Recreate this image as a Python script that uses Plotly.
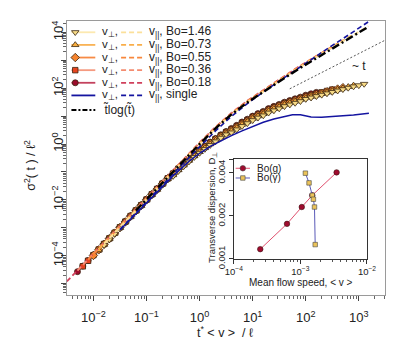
import plotly.graph_objects as go

# ---- data (logs are log10) ----
# x grid for the v_perp curves (log10 of t*<v>/l)
logt_grid = [-2.3, -2.2, -2.1, -2.0, -1.9, -1.8, -1.7, -1.6, -1.5, -1.4,
             -1.3, -1.2, -1.1, -1.0, -0.9, -0.8, -0.7, -0.6, -0.5, -0.4,
             -0.3, -0.2, -0.1, 0.0, 0.1, 0.2, 0.3, 0.4, 0.5, 0.6,
             0.7, 0.8, 0.9, 1.0, 1.1, 1.2, 1.3, 1.4, 1.5, 1.6,
             1.7, 1.8, 1.9, 2.0, 2.1, 2.2, 2.3, 2.4, 2.5, 2.6,
             2.7, 2.8, 2.9, 3.0, 3.1]

bo_labels = ["1.46", "0.73", "0.55", "0.36", "0.18"]
perp_start = {"1.46": 5, "0.73": 4, "0.55": 3, "0.36": 1, "0.18": 0}

# log10 sigma^2/l^2, transverse (v_perp)
perp_log = {
  "0.18": [-4.57, -4.37, -4.17, -3.97, -3.77, -3.57, -3.37, -3.17, -2.97, -2.77,
           -2.57, -2.37, -2.18, -1.98, -1.79, -1.60, -1.41, -1.22, -1.04, -0.86,
           -0.69, -0.52, -0.36, -0.21, -0.07, 0.07, 0.20, 0.33, 0.45, 0.56,
           0.67, 0.79, 0.89, 1.00, 1.09, 1.17, 1.27, 1.35, 1.42, 1.50,
           1.56, 1.62, 1.68, 1.75, 1.80, 1.85],
  "0.36": [-4.38, -4.18, -3.98, -3.78, -3.58, -3.38, -3.18, -2.98, -2.78, -2.58,
           -2.38, -2.19, -1.99, -1.80, -1.61, -1.42, -1.23, -1.07, -0.89, -0.72,
           -0.55, -0.39, -0.24, -0.10, 0.04, 0.17, 0.30, 0.42, 0.52, 0.63,
           0.75, 0.85, 0.96, 1.05, 1.13, 1.23, 1.31, 1.38, 1.46, 1.52,
           1.58, 1.64, 1.70, 1.75, 1.80, 1.85, 1.90, 1.95],
  "0.55": [-3.99, -3.79, -3.59, -3.39, -3.19, -2.99, -2.79, -2.59, -2.39, -2.20,
           -2.00, -1.81, -1.62, -1.43, -1.24, -1.09, -0.91, -0.74, -0.57, -0.41,
           -0.26, -0.12, 0.02, 0.15, 0.28, 0.40, 0.49, 0.60, 0.72, 0.82,
           0.93, 1.02, 1.10, 1.20, 1.28, 1.35, 1.43, 1.49, 1.55, 1.61,
           1.67, 1.72, 1.77, 1.82, 1.87, 1.92, 1.97, 2.02],
  "0.73": [-3.80, -3.60, -3.40, -3.20, -3.00, -2.80, -2.60, -2.40, -2.21, -2.01,
           -1.82, -1.63, -1.44, -1.25, -1.11, -0.93, -0.76, -0.59, -0.43, -0.28,
           -0.14, 0.00, 0.13, 0.26, 0.38, 0.47, 0.58, 0.70, 0.80, 0.91,
           1.00, 1.08, 1.18, 1.26, 1.33, 1.41, 1.47, 1.53, 1.59, 1.65,
           1.70, 1.75, 1.80, 1.85, 1.90, 1.95, 2.00, 2.05, 2.10],
  "1.46": [-3.62, -3.42, -3.22, -3.02, -2.82, -2.62, -2.42, -2.23, -2.03, -1.84,
           -1.65, -1.46, -1.27, -1.15, -0.97, -0.80, -0.63, -0.47, -0.32, -0.18,
           -0.04, 0.09, 0.22, 0.34, 0.41, 0.52, 0.64, 0.74, 0.85, 0.94,
           1.02, 1.12, 1.20, 1.27, 1.35, 1.41, 1.47, 1.53, 1.61, 1.66,
           1.71, 1.76, 1.81, 1.86, 1.91, 1.96, 2.01, 2.06, 2.10, 2.15],
}

# longitudinal (v_par), dashed
par_logt = {
  "0.18": [-2.5, -2.0, -1.5, -1.0, -0.5, 0.0, 0.3, 0.6, 0.9, 1.25, 1.5, 1.85, 2.2],
  "0.36": [-2.3, -2.0, -1.5, -1.0, -0.5, 0.0, 0.3, 0.6, 0.9, 1.25, 1.5, 1.85, 2.15, 2.5],
  "0.55": [-2.1, -1.5, -1.0, -0.5, 0.0, 0.3, 0.6, 0.9, 1.25, 1.5, 1.85, 2.15, 2.45, 2.7],
  "0.73": [-1.9, -1.5, -1.0, -0.5, 0.0, 0.3, 0.6, 0.9, 1.25, 1.5, 1.85, 2.15, 2.45, 2.9],
  "1.46": [-1.8, -1.5, -1.0, -0.5, 0.0, 0.3, 0.6, 0.9, 1.25, 1.5, 1.85, 2.15, 2.45, 2.8, 3.18],
}
par_log = {
  "0.18": [-4.92, -3.92, -2.92, -1.92, -0.93, 0.05, 0.61, 1.11, 1.55, 2.0, 2.31, 2.75, 3.14],
  "0.36": [-4.53, -3.93, -2.93, -1.93, -0.94, 0.04, 0.6, 1.1, 1.54, 1.99, 2.3, 2.74, 3.1, 3.48],
  "0.55": [-4.14, -2.94, -1.94, -0.95, 0.03, 0.59, 1.09, 1.53, 1.98, 2.29, 2.73, 3.09, 3.43, 3.72],
  "0.73": [-3.76, -2.96, -1.96, -0.97, 0.01, 0.57, 1.07, 1.51, 1.96, 2.27, 2.71, 3.07, 3.41, 3.93],
  "1.46": [-3.57, -2.97, -1.97, -0.98, 0.0, 0.56, 1.06, 1.5, 1.95, 2.26, 2.7, 3.06, 3.4, 3.8, 4.22],
}

single_perp_logt = [-1.5, -1.0, -0.5, -0.2, 0.0, 0.2, 0.4, 0.6, 0.8, 1.0, 1.2, 1.4, 1.6, 1.75,
                    1.9, 2.0, 2.1, 2.3, 2.6, 2.9, 3.19]
single_perp_log = [-3.08, -2.1, -1.14, -0.62, -0.33, -0.08, 0.12, 0.3, 0.47, 0.63, 0.78, 0.9,
                   1.0, 1.05, 1.05, 1.0, 0.97, 0.96, 0.99, 1.04, 1.1]
single_par_logt = [-1.5, -1.0, -0.5, 0.0, 0.3, 0.6, 0.9, 1.25, 1.5, 1.85, 2.15, 2.45, 2.8, 3.19]
single_par_log = [-3.06, -2.06, -1.07, -0.1, 0.47, 0.99, 1.45, 1.93, 2.25, 2.72, 3.1, 3.47, 3.9, 4.39]

tlogt_logt = [-1.2, -1.0, -0.5, 0.0, 0.3, 0.6, 0.9, 1.25, 1.5, 1.85, 2.15, 2.45, 2.8, 3.18]
tlogt_log = [-2.38, -1.98, -0.99, 0.0, 0.56, 1.06, 1.49, 1.94, 2.24, 2.67, 3.02, 3.36, 3.76, 4.2]

guide_t = [50, 3100]
guide_y = [95, 5200]

x_tick_pows = [-2, -1, 0, 1, 2, 3]
y_tick_pows = [-5, -4, -3, -2, -1, 0, 1, 2, 3, 4]
y_label_pows = [-4, -2, 0, 2, 4]

# inset: transverse dispersion vs mean flow speed
bo_g_v = [2.5e-4, 6.3e-4, 1.05e-3, 1.51e-3, 3.5e-3]
bo_g_d = [1.17e-3, 1.76e-3, 2.31e-3, 2.79e-3, 4.04e-3]
bo_gamma_v = [1.19e-3, 1.35e-3, 1.51e-3, 1.57e-3, 1.63e-3, 1.67e-3]
bo_gamma_d = [3.99e-3, 3.41e-3, 2.79e-3, 2.62e-3, 2.31e-3, 1.26e-3]
inset_x_pows = [-4, -3, -2]
inset_y_ticks = [0.001, 0.002, 0.003, 0.004, 0.005]
inset_y_text = ["0.001", "0.002", "", "0.004", ""]

# ---- styles ----
marker_fill = {"1.46": "#F7DA86", "0.73": "#F9AE3E", "0.55": "#F6842E", "0.36": "#E7441F", "0.18": "#9C0C2C"}
line_col = {"1.46": "#FCE9B0", "0.73": "#F9B356", "0.55": "#F78B45", "0.36": "#F59A80", "0.18": "#C3425E"}
dash_col = {"1.46": "#FBE09A", "0.73": "#F9AE4A", "0.55": "#F8873C", "0.36": "#F48C70", "0.18": "#D0405C"}
symbols = {"1.46": "triangle-down", "0.73": "triangle-up", "0.55": "diamond", "0.36": "square", "0.18": "circle"}
msize = {"1.46": 6.5, "0.73": 6.5, "0.55": 6.5, "0.36": 5.5, "0.18": 6}
outline = "#3A2712"
navy = "#1414A0"
FONT = "Liberation Sans, Arial, sans-serif"

def lin(vals):
  return [10 ** v for v in vals]

def pow_text(p):
  return "10<sup>%d</sup>" % p if p >= 0 else "10<sup>\u2212%d</sup>" % -p

fig = go.Figure()

# v_perp with markers (draw dark first, light on top)
for bo in ["0.18", "0.36", "0.55", "0.73", "1.46"]:
  i0 = perp_start[bo]
  vals = perp_log[bo]
  fig.add_scatter(
    x=lin(logt_grid[i0:i0 + len(vals)]), y=lin(vals), mode="lines+markers",
    line=dict(color=line_col[bo], width=1.5),
    marker=dict(symbol=symbols[bo], size=msize[bo], color=marker_fill[bo], line=dict(color=outline, width=0.8)),
    showlegend=False,
  )

fig.add_scatter(x=lin(single_perp_logt), y=lin(single_perp_log), mode="lines",
                line=dict(color=navy, width=1.5), showlegend=False)

for bo in ["0.18", "0.36", "0.55", "0.73", "1.46"]:
  fig.add_scatter(x=lin(par_logt[bo]), y=lin(par_log[bo]), mode="lines",
                  line=dict(color=dash_col[bo], width=1.8, dash="5px,3px"), showlegend=False)

fig.add_scatter(x=lin(single_par_logt), y=lin(single_par_log), mode="lines",
                line=dict(color=navy, width=1.6, dash="5px,3px"), showlegend=False)
fig.add_scatter(x=lin(tlogt_logt), y=lin(tlogt_log), mode="lines",
                line=dict(color="black", width=2.4, dash="8px,3px,2px,3px"), showlegend=False)
fig.add_scatter(x=guide_t, y=guide_y, mode="lines",
                line=dict(color="#555555", width=1, dash="2px,2px"), showlegend=False)

# inset
fig.add_scatter(x=bo_g_v, y=bo_g_d, xaxis="x2", yaxis="y2", mode="lines+markers",
                line=dict(color="#E0506E", width=1),
                marker=dict(symbol="circle", size=5.5, color="#A00B2E", line=dict(color="#3A1010", width=0.6)),
                showlegend=False)
fig.add_scatter(x=bo_gamma_v, y=bo_gamma_d, xaxis="x2", yaxis="y2", mode="lines+markers",
                line=dict(color="#5A5AB8", width=1),
                marker=dict(symbol="square", size=4.5, color="#EBC35A", line=dict(color="#444444", width=0.6)),
                showlegend=False)

# ---- legends drawn on a pixel helper axis ----
rows_y = [25, 38, 51, 64, 77, 90]
row_keys = ["1.46", "0.73", "0.55", "0.36", "0.18", "single"]
ann = []
for key, y in zip(row_keys, rows_y):
  col = navy if key == "single" else line_col[key]
  dcol = navy if key == "single" else dash_col[key]
  fig.add_scatter(x=[57, 82], y=[y, y], xaxis="x3", yaxis="y3", mode="lines",
                  line=dict(color=col, width=1.8), showlegend=False)
  if key != "single":
    fig.add_scatter(x=[61], y=[y], xaxis="x3", yaxis="y3", mode="markers",
                    marker=dict(symbol=symbols[key], size=msize[key], color=marker_fill[key],
                                line=dict(color=outline, width=0.8)), showlegend=False)
  fig.add_scatter(x=[109, 131], y=[y, y], xaxis="x3", yaxis="y3", mode="lines",
                  line=dict(color=dcol, width=1.8, dash="5px,3px"), showlegend=False)
  ann.append(dict(x=88, y=y, text="v<sub>⊥</sub>,", font=dict(size=11.5, family=FONT, color="#222")))
  label = "single" if key == "single" else "Bo=" + key
  ann.append(dict(x=137, y=y, text="v<sub>||</sub>, " + label))

fig.add_scatter(x=[57, 82], y=[105, 105], xaxis="x3", yaxis="y3", mode="lines",
                line=dict(color="black", width=1.8, dash="5px,2px,2px,2px"), showlegend=False)
ann.append(dict(x=89, y=104, text="t\u0303log(t\u0303)"))

# inset legend
for yy, lc, sym, mc, name in [(165, "#E0506E", "circle", "#A00B2E", "Bo(g)"),
                              (175, "#5A5AB8", "square", "#EBC35A", "Bo(γ)")]:
  fig.add_scatter(x=[229, 244], y=[yy, yy], xaxis="x3", yaxis="y3", mode="lines",
                  line=dict(color=lc, width=1), showlegend=False)
  fig.add_scatter(x=[236.5], y=[yy], xaxis="x3", yaxis="y3", mode="markers",
                  marker=dict(symbol=sym, size=5.5 if sym == "circle" else 4.5, color=mc,
                              line=dict(color="#444444", width=0.6)), showlegend=False)
  ann.append(dict(x=250, y=yy, text=name, font=dict(size=10, family=FONT, color="#222")))

annotations = []
for a in ann:
  d = dict(xref="x3", yref="y3", xanchor="left", yanchor="middle", showarrow=False,
           borderpad=0, font=dict(size=12, family=FONT, color="#222"))
  d.update(a)
  annotations.append(d)

annotations += [
  dict(xref="x3", yref="y3", x=358, y=60, text="~ t", showarrow=False,
       font=dict(size=12, family=FONT, color="#222")),
  dict(xref="x3", yref="y3", x=14, y=162, text="σ<sup>2</sup>( t ) / ℓ<sup>2</sup>", textangle=-90,
       showarrow=False, font=dict(size=12.5, family=FONT, color="#222")),
  dict(xref="x3", yref="y3", x=218, y=334, text="t<sup>*</sup> &lt; v &gt;  / ℓ",
       showarrow=False, font=dict(size=12.5, family=FONT, color="#222")),
  dict(xref="x3", yref="y3", x=204, y=205, text="Transverse dispersion, D<sub>⊥</sub>", textangle=-90,
       showarrow=False, font=dict(size=9.5, family=FONT, color="#222")),
  dict(xref="x3", yref="y3", x=297, y=283, text="Mean flow speed, &lt; v &gt;",
       showarrow=False, font=dict(size=10, family=FONT, color="#222")),
]

W, H = 399, 349
main_l, main_r, main_t, main_b = 52, 385, 13, 295
in_l, in_r, in_t, in_b = 227, 366.5, 155, 258.3

axis_common = dict(showgrid=False, zeroline=False, ticks="outside", tickcolor="#444",
                   linecolor="#9a9a9a", linewidth=1, mirror=True)

fig.update_layout(
  width=W, height=H, margin=dict(l=0, r=0, t=0, b=0),
  paper_bgcolor="white", plot_bgcolor="rgba(0,0,0,0)",
  font=dict(family=FONT, color="#222"),
  showlegend=False,
  xaxis=dict(type="log", domain=[main_l / W, main_r / W], range=[-2.504, 3.486], anchor="y",
             tickvals=[10 ** p for p in x_tick_pows], ticktext=[pow_text(p) for p in x_tick_pows],
             ticklen=5, tickfont=dict(size=13), ticklabelstandoff=6,
             minor=dict(ticks="outside", ticklen=3, dtick="D1", tickcolor="#666"), **axis_common),
  yaxis=dict(type="log", domain=[1 - main_b / H, 1 - main_t / H], range=[-5.39, 4.42], anchor="x",
             tickvals=[10 ** p for p in y_tick_pows],
             ticktext=[pow_text(p) if p in y_label_pows else "" for p in y_tick_pows],
             ticklen=5, tickangle=-90, tickfont=dict(size=13), ticklabelstandoff=-8,
             minor=dict(ticks="outside", ticklen=3, dtick="D1", tickcolor="#666"), **axis_common),
  xaxis2=dict(type="log", domain=[in_l / W, in_r / W], range=[-4, -2], anchor="y2",
              tickvals=[10 ** p for p in inset_x_pows], ticktext=[pow_text(p) for p in inset_x_pows],
              ticklen=4, tickfont=dict(size=9.5),
              minor=dict(ticks="outside", ticklen=2, dtick="D1", tickcolor="#555"),
              showgrid=False, zeroline=False, ticks="outside", tickcolor="#333",
              linecolor="#333", linewidth=1, mirror=True),
  yaxis2=dict(type="log", domain=[1 - in_b / H, 1 - in_t / H], range=[-3, -2.2967], anchor="x2",
              tickvals=inset_y_ticks, ticktext=inset_y_text,
              ticklen=4, tickangle=-90, tickfont=dict(size=9.5),
              showgrid=False, zeroline=False, ticks="outside", tickcolor="#333",
              linecolor="#333", linewidth=1, mirror=True),
  xaxis3=dict(domain=[0, 1], range=[0, W], anchor="y3", visible=False, fixedrange=True),
  yaxis3=dict(domain=[0, 1], range=[H, 0], anchor="x3", visible=False, fixedrange=True),
  annotations=annotations,
)

fig.write_html("out.html")
